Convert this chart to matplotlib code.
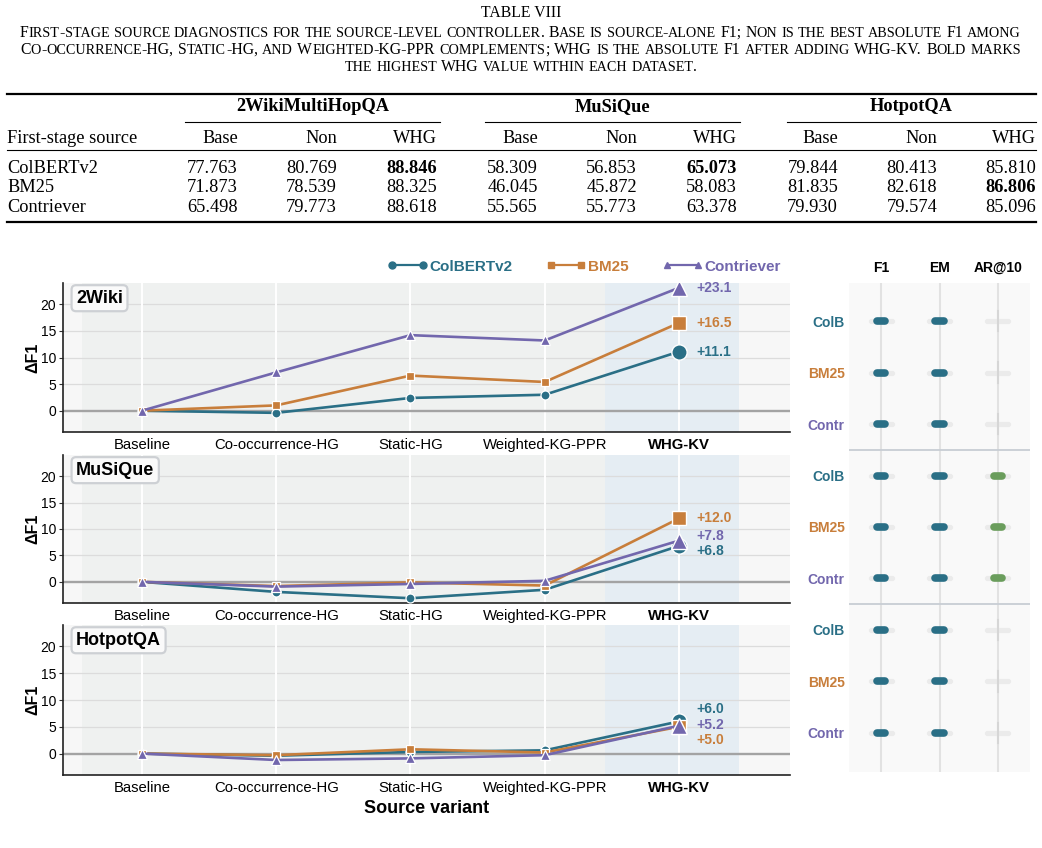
import numpy as np
import matplotlib
matplotlib.use("Agg")
import matplotlib.pyplot as plt
from matplotlib.lines import Line2D
from matplotlib.font_manager import FontProperties

W, H, DPI = 1042, 848, 100

# =====================================================
# DATA
# =====================================================

variants = ["Baseline", "Co-occurrence-HG", "Static-HG", "Weighted-KG-PPR", "WHG-KV"]
sources = ["ColBERTv2", "BM25", "Contriever"]
short_sources = ["ColB", "BM25", "Contr"]
datasets = ["2Wiki", "MuSiQue", "HotpotQA"]

# delta F1 vs source-alone baseline
wiki_colb = [0.0, -0.4, 2.4, 3.0, 11.1]
wiki_bm25 = [0.0, 1.0, 6.6, 5.4, 16.5]
wiki_contr = [0.0, 7.2, 14.2, 13.2, 23.1]

musique_colb = [0.0, -1.9, -3.1, -1.5, 6.8]
musique_bm25 = [0.0, -0.8, -0.1, -0.7, 12.0]
musique_contr = [0.0, -0.9, -0.4, 0.2, 7.8]

hotpot_colb = [0.0, -0.4, 0.3, 0.6, 6.0]
hotpot_bm25 = [0.0, -0.3, 0.8, 0.2, 5.0]
hotpot_contr = [0.0, -1.2, -0.9, -0.3, 5.2]

# right-hand diagnostic strip: 1 = gain (F1/EM), 2 = recall gain, 0 = unchanged
diag_metrics = ["F1", "EM", "AR@10"]
wiki_diag = [[1, 1, 0], [1, 1, 0], [1, 1, 0]]
musique_diag = [[1, 1, 2], [1, 1, 2], [1, 1, 2]]
hotpot_diag = [[1, 1, 0], [1, 1, 0], [1, 1, 0]]

# table
table_groups = ["2WikiMultiHopQA", "MuSiQue", "HotpotQA"]
table_subcols = ["Base", "Non", "WHG"]
table_rows = ["ColBERTv2", "BM25", "Contriever"]
colb_row = ["77.763", "80.769", "88.846", "58.309", "56.853", "65.073", "79.844", "80.413", "85.810"]
bm25_row = ["71.873", "78.539", "88.325", "46.045", "45.872", "58.083", "81.835", "82.618", "86.806"]
contr_row = ["65.498", "79.773", "88.618", "55.565", "55.773", "63.378", "79.930", "79.574", "85.096"]
bold_cells = [(0, 2), (0, 5), (1, 8)]

caption_title = "TABLE VIII"
caption_lines = [
    "First-stage source diagnostics for the source-level controller. Base is source-alone F1; Non is the best absolute F1 among",
    "Co-occurrence-HG, Static-HG, and Weighted-KG-PPR complements; WHG is the absolute F1 after adding WHG-KV. Bold marks",
    "the highest WHG value within each dataset.",
]

COLB = "#2a6f86"
BM25 = "#c87e3b"
CONTR = "#7267ad"
GREEN = "#6a9d5c"
colors = [COLB, BM25, CONTR]
markers = ["o", "s", "^"]

SERIF = "Liberation Serif"
SANS = "Liberation Sans"
plt.rcParams["font.family"] = SANS


def fx(x):
    return x / W


def fy(y):
    return 1 - y / H


fig = plt.figure(figsize=(W / DPI, H / DPI), dpi=DPI)
renderer = fig.canvas.get_renderer()

# =====================================================
# TABLE CAPTION (small caps)
# =====================================================

BIG = 11.3


def adv(s, size):
    # advance width in px, measured between two bars
    fp = FontProperties(family=SERIF, size=size)
    w1 = renderer.get_text_width_height_descent("|" + s + "|", fp, ismath=False)[0]
    w0 = renderer.get_text_width_height_descent("||", fp, ismath=False)[0]
    return w1 - w0


def split_runs(text, small):
    words = []
    for w in text.split(" "):
        runs = []
        for ch in w:
            if ch.islower():
                s, sz = ch.upper(), small
            else:
                s, sz = ch, BIG
            if runs and runs[-1][1] == sz:
                runs[-1][0] += s
            else:
                runs.append([s, sz])
        words.append(runs)
    return words


def natural_width(text, small):
    words = split_runs(text, small)
    space = adv(" ", BIG)
    return sum(adv(s, sz) for runs in words for s, sz in runs) + space * (len(words) - 1)


# small-cap size so that the first caption line fills the text width
SMALL = 9.0
for _ in range(4):
    SMALL *= 1001 / natural_width(caption_lines[0], SMALL)
SMALL = min(SMALL, BIG)


def smallcaps_line(y, text, left=None, right=None, center=None):
    words = split_runs(text, SMALL)
    space = adv(" ", BIG)
    natural = natural_width(text, SMALL)
    if center is None:
        space += (right - left - natural) / (len(words) - 1)
        x = left
    else:
        x = center - natural / 2
    for runs in words:
        for s, sz in runs:
            fig.text(fx(x), fy(y), s, fontsize=sz, family=SERIF, va="baseline")
            x += adv(s, sz)
        x += space


fig.text(fx(521), fy(17), caption_title, fontsize=BIG, family=SERIF, ha="center", va="baseline")
smallcaps_line(37, caption_lines[0], left=20, right=1021)
smallcaps_line(54, caption_lines[1], left=20, right=1021)
smallcaps_line(71, caption_lines[2], center=521)

# =====================================================
# TABLE BODY
# =====================================================

TS = 13.2


def hrule(y, x0, x1, lw):
    fig.add_artist(Line2D([fx(x0), fx(x1)], [fy(y), fy(y)], transform=fig.transFigure,
                          color="black", lw=lw))


hrule(94, 7, 1036, 1.6)
hrule(150, 7, 1036, 0.8)
hrule(222, 7, 1036, 1.6)

group_spans = [(185, 440), (485, 740), (787, 1036)]
col_right = [238, 337, 437, 538, 637, 737, 838, 937, 1036]

for g, (x0, x1) in zip(table_groups, group_spans):
    fig.text(fx((x0 + x1) / 2), fy(111), g, fontsize=TS, family=SERIF, weight="bold",
             ha="center", va="baseline")
    hrule(122, x0, x1, 0.8)

fig.text(fx(7), fy(143), "First-stage source", fontsize=TS, family=SERIF, va="baseline")
for j, xr in enumerate(col_right):
    fig.text(fx(xr), fy(143), table_subcols[j % 3], fontsize=TS, family=SERIF,
             ha="right", va="baseline")

row_base = [173, 192.5, 212]
for i, (name, vals) in enumerate(zip(table_rows, [colb_row, bm25_row, contr_row])):
    fig.text(fx(7), fy(row_base[i]), name, fontsize=TS, family=SERIF, va="baseline")
    for j, v in enumerate(vals):
        fig.text(fx(col_right[j]), fy(row_base[i]), v, fontsize=TS, family=SERIF,
                 weight="bold" if (i, j) in bold_cells else "normal",
                 ha="right", va="baseline")

# =====================================================
# LINE PANELS
# =====================================================

panel_series = [
    [wiki_colb, wiki_bm25, wiki_contr],
    [musique_colb, musique_bm25, musique_contr],
    [hotpot_colb, hotpot_bm25, hotpot_contr],
]
panel_tops = [283, 455, 625]
panel_heights = [149, 148, 150]


def spread(vals, gap):
    order = sorted(range(len(vals)), key=lambda i: -vals[i])
    clusters = [[i] for i in order]

    def pos(c):
        center = np.mean([vals[i] for i in c])
        n = len(c)
        return [center + gap * ((n - 1) / 2 - k) for k in range(n)]

    merged = True
    while merged:
        merged = False
        for j in range(len(clusters) - 1):
            if pos(clusters[j])[-1] - pos(clusters[j + 1])[0] < gap:
                clusters[j] = clusters[j] + clusters[j + 1]
                del clusters[j + 1]
                merged = True
                break
    out = {}
    for c in clusters:
        for i, p in zip(c, pos(c)):
            out[i] = p
    return out


x = np.arange(len(variants))
axes = []
for k in range(3):
    ax = fig.add_axes([fx(63), fy(panel_tops[k] + panel_heights[k]),
                       fx(727), panel_heights[k] / H])
    axes.append(ax)
    ax.set_facecolor("#f7f7f7")
    ax.axvspan(-0.45, 3.45, color="#eff1f0", lw=0, zorder=0)
    ax.axvspan(3.45, 4.45, color="#e5edf3", lw=0, zorder=0)
    for yv in [5, 10, 15, 20]:
        ax.axhline(yv, color="#dcdcdc", lw=0.9, zorder=1)
    for xv in x:
        ax.axvline(xv, color="white", lw=1.4, zorder=1.2)
    ax.axhline(0, color="#a3a3a3", lw=1.7, zorder=1.5)

    series = panel_series[k]
    for s, (vals, c, m) in enumerate(zip(series, colors, markers)):
        ax.plot(x, vals, color=c, lw=1.9, zorder=3 + s)
        ax.plot(x[:-1], vals[:-1], ls="none", marker=m, ms=6.5 if m != "s" else 6,
                color=c, mec="white", mew=0.9, zorder=3 + s)
        ax.plot(x[-1:], vals[-1:], ls="none", marker=m, ms=11 if m != "s" else 10,
                color=c, mec="white", mew=1.0, zorder=3 + s)

    finals = [vals[-1] for vals in series]
    label_y = spread(finals, 2.85)
    for s, c in enumerate(colors):
        ax.text(4.13, label_y[s], f"+{finals[s]:.1f}", color=c, fontsize=10,
                weight="bold", ha="left", va="center", zorder=6)

    ax.text(0.018, 0.955, datasets[k], transform=ax.transAxes, fontsize=13, weight="bold",
            ha="left", va="top", zorder=7,
            bbox=dict(boxstyle="round,pad=0.25", fc="#fafafa", ec="#cdd0d4", lw=1.6))

    ax.set_xlim(-0.588, 4.827)
    ax.set_ylim(-4, 24)
    ax.set_yticks([0, 5, 10, 15, 20])
    ax.set_xticks(x)
    ax.set_xticklabels(variants, fontsize=10.7)
    ax.get_xticklabels()[-1].set_fontweight("bold")
    ax.tick_params(axis="x", length=0, pad=4)
    ax.tick_params(axis="y", length=3, labelsize=10, pad=2, color="#333333")
    for sp in ["top", "right"]:
        ax.spines[sp].set_visible(False)
    for sp in ["left", "bottom"]:
        ax.spines[sp].set_color("#222222")
        ax.spines[sp].set_linewidth(1.2)
    ax.set_ylabel("ΔF1", fontsize=11.5, weight="bold", labelpad=0)

axes[-1].set_xlabel("Source variant", fontsize=13, weight="bold", labelpad=4)

handles = [Line2D([0], [0], color=c, marker=m, ms=5, lw=1.6, mec=c)
           for c, m in zip(colors, markers)]
leg = axes[0].legend(handles, sources, loc="lower right", bbox_to_anchor=(1.0, 1.0),
                     ncol=3, frameon=False, numpoints=2, handlelength=2.6,
                     handletextpad=0.15, columnspacing=2.2, borderaxespad=0.2,
                     prop=dict(family=SANS, size=11, weight="bold"))
for t, c in zip(leg.get_texts(), colors):
    t.set_color(c)

# =====================================================
# DIAGNOSTIC STRIP
# =====================================================

axd = fig.add_axes([fx(849), fy(772), fx(181), 489 / H])
axd.set_facecolor("#f9f9f9")
for sp in axd.spines.values():
    sp.set_visible(False)
axd.set_xlim(-0.55, 2.55)
axd.set_ylim(8.76, -0.74)
for cx in range(3):
    axd.axvline(cx, color="#e2e2e2", lw=1.5, zorder=1)
for yd in [2.5, 5.5]:
    axd.axhline(yd, color="#c8cdd4", lw=1.3, zorder=1)

for b, grid in enumerate([wiki_diag, musique_diag, hotpot_diag]):
    for r, row in enumerate(grid):
        ry = b * 3 + r
        for cx, st in enumerate(row):
            axd.plot([cx - 0.18, cx + 0.18], [ry, ry], color="#ebebeb", lw=3.8,
                     solid_capstyle="round", zorder=2)
            if st == 0:
                axd.plot([cx, cx], [ry - 0.2, ry + 0.2], color="#d6d6d6", lw=1.5, zorder=3)
            else:
                axd.plot([cx - 0.075, cx + 0.075], [ry, ry], color=COLB if st == 1 else GREEN,
                         lw=5.5, solid_capstyle="round", zorder=3)

axd.set_xticks(range(3))
axd.set_xticklabels(diag_metrics, fontsize=10, weight="bold")
axd.xaxis.tick_top()
axd.set_yticks(range(9))
axd.set_yticklabels(short_sources * 3, fontsize=10, weight="bold")
for t, c in zip(axd.get_yticklabels(), colors * 3):
    t.set_color(c)
axd.tick_params(length=0, pad=3)
axd.tick_params(axis="x", pad=6)

fig.savefig("out.png", dpi=DPI)
